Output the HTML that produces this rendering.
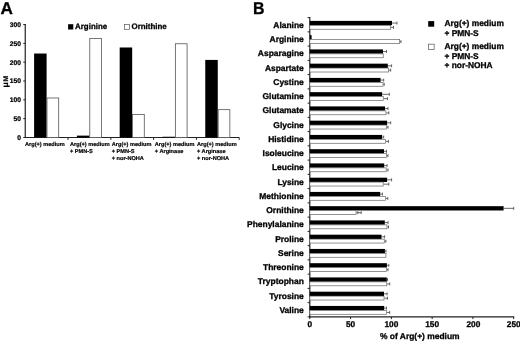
<!DOCTYPE html>
<html><head><meta charset="utf-8"><title>Figure</title>
<style>
html,body{margin:0;padding:0;background:#fff;}
body{width:520px;height:341px;overflow:hidden;}
svg{display:block;will-change:transform;}
svg text{font-family:"Liberation Sans",sans-serif;font-weight:bold;text-rendering:geometricPrecision;}
</style></head><body>
<svg width="520" height="341" viewBox="0 0 520 341">
<rect x="0" y="0" width="520" height="341" fill="#fff"/>
<text x="0.50" y="13.90" font-size="17.2" text-anchor="start" fill="#000" stroke="#000" stroke-width="0.3" >A</text>
<line x1="25.25" y1="24.00" x2="25.25" y2="138.00" stroke="#222" stroke-width="1.2"/>
<line x1="24.75" y1="137.50" x2="239.20" y2="137.50" stroke="#222" stroke-width="1.2"/>
<line x1="23.25" y1="137.50" x2="25.25" y2="137.50" stroke="#222" stroke-width="1.0"/>
<text x="20.95" y="139.90" font-size="6.7" text-anchor="end" fill="#000" stroke="#000" stroke-width="0.235" >0</text>
<line x1="23.25" y1="118.67" x2="25.25" y2="118.67" stroke="#222" stroke-width="1.0"/>
<text x="20.95" y="121.07" font-size="6.7" text-anchor="end" fill="#000" stroke="#000" stroke-width="0.235" >50</text>
<line x1="23.25" y1="99.84" x2="25.25" y2="99.84" stroke="#222" stroke-width="1.0"/>
<text x="20.95" y="102.24" font-size="6.7" text-anchor="end" fill="#000" stroke="#000" stroke-width="0.235" >100</text>
<line x1="23.25" y1="81.01" x2="25.25" y2="81.01" stroke="#222" stroke-width="1.0"/>
<text x="20.95" y="83.41" font-size="6.7" text-anchor="end" fill="#000" stroke="#000" stroke-width="0.235" >150</text>
<line x1="23.25" y1="62.18" x2="25.25" y2="62.18" stroke="#222" stroke-width="1.0"/>
<text x="20.95" y="64.58" font-size="6.7" text-anchor="end" fill="#000" stroke="#000" stroke-width="0.235" >200</text>
<line x1="23.25" y1="43.35" x2="25.25" y2="43.35" stroke="#222" stroke-width="1.0"/>
<text x="20.95" y="45.75" font-size="6.7" text-anchor="end" fill="#000" stroke="#000" stroke-width="0.235" >250</text>
<line x1="23.25" y1="24.52" x2="25.25" y2="24.52" stroke="#222" stroke-width="1.0"/>
<text x="20.95" y="26.92" font-size="6.7" text-anchor="end" fill="#000" stroke="#000" stroke-width="0.235" >300</text>
<line x1="68.04" y1="137.50" x2="68.04" y2="139.90" stroke="#222" stroke-width="1.0"/>
<line x1="110.83" y1="137.50" x2="110.83" y2="139.90" stroke="#222" stroke-width="1.0"/>
<line x1="153.62" y1="137.50" x2="153.62" y2="139.90" stroke="#222" stroke-width="1.0"/>
<line x1="196.41" y1="137.50" x2="196.41" y2="139.90" stroke="#222" stroke-width="1.0"/>
<line x1="239.20" y1="137.50" x2="239.20" y2="139.90" stroke="#222" stroke-width="1.0"/>
<rect x="34.10" y="53.52" width="12.50" height="83.98" fill="#000"/>
<rect x="47.00" y="97.98" width="11.70" height="39.52" fill="#fff" stroke="#555" stroke-width="0.8"/>
<rect x="76.89" y="135.62" width="12.50" height="1.88" fill="#000"/>
<rect x="89.79" y="38.48" width="11.70" height="99.02" fill="#fff" stroke="#555" stroke-width="0.8"/>
<rect x="119.68" y="47.49" width="12.50" height="90.01" fill="#000"/>
<rect x="132.58" y="114.55" width="11.70" height="22.95" fill="#fff" stroke="#555" stroke-width="0.8"/>
<rect x="162.47" y="136.75" width="12.50" height="0.75" fill="#000"/>
<rect x="175.37" y="43.75" width="11.70" height="93.75" fill="#fff" stroke="#555" stroke-width="0.8"/>
<rect x="205.26" y="59.92" width="12.50" height="77.58" fill="#000"/>
<rect x="218.16" y="109.66" width="11.70" height="27.85" fill="#fff" stroke="#555" stroke-width="0.8"/>
<rect x="68.10" y="24.20" width="5.20" height="5.30" fill="#000"/>
<text x="75.10" y="29.20" font-size="7.9" text-anchor="start" fill="#000" stroke="#000" stroke-width="0.277" >Arginine</text>
<rect x="124.50" y="24.60" width="5.00" height="4.70" fill="#fff" stroke="#555" stroke-width="0.7"/>
<text x="131.50" y="29.20" font-size="7.95" text-anchor="start" fill="#000" stroke="#000" stroke-width="0.278" >Ornithine</text>
<text transform="translate(7.5,87.4) rotate(-90)" font-size="8" stroke="#000" stroke-width="0.2" textLength="5.4" lengthAdjust="spacingAndGlyphs">μ</text>
<text transform="translate(7.6,81.5) rotate(-90)" font-size="6.8" stroke="#000" stroke-width="0.2">M</text>
<text x="25.05" y="145.90" font-size="5.6" text-anchor="start" fill="#000" stroke="#000" stroke-width="0.196" >Arg(+) medium</text>
<text x="70.00" y="145.90" font-size="5.6" text-anchor="start" fill="#000" stroke="#000" stroke-width="0.196" >Arg(+) medium</text>
<text x="70.00" y="153.05" font-size="5.6" text-anchor="start" fill="#000" stroke="#000" stroke-width="0.196" >+ PMN-S</text>
<text x="111.75" y="145.90" font-size="5.6" text-anchor="start" fill="#000" stroke="#000" stroke-width="0.196" >Arg(+) medium</text>
<text x="111.75" y="153.05" font-size="5.6" text-anchor="start" fill="#000" stroke="#000" stroke-width="0.196" >+ PMN-S</text>
<text x="111.75" y="160.20" font-size="5.6" text-anchor="start" fill="#000" stroke="#000" stroke-width="0.196" >+ nor-NOHA</text>
<text x="154.80" y="145.90" font-size="5.6" text-anchor="start" fill="#000" stroke="#000" stroke-width="0.196" >Arg(+) medium</text>
<text x="154.80" y="153.05" font-size="5.6" text-anchor="start" fill="#000" stroke="#000" stroke-width="0.196" >+ Arginase</text>
<text x="197.00" y="145.90" font-size="5.6" text-anchor="start" fill="#000" stroke="#000" stroke-width="0.196" >Arg(+) medium</text>
<text x="197.00" y="153.05" font-size="5.6" text-anchor="start" fill="#000" stroke="#000" stroke-width="0.196" >+ Arginase</text>
<text x="197.00" y="160.20" font-size="5.6" text-anchor="start" fill="#000" stroke="#000" stroke-width="0.196" >+ nor-NOHA</text>
<text x="253.00" y="13.90" font-size="17.2" text-anchor="start" fill="#000" stroke="#000" stroke-width="0.3" textLength="11.5" lengthAdjust="spacingAndGlyphs">B</text>
<line x1="309.80" y1="17.10" x2="309.80" y2="317.40" stroke="#222" stroke-width="1.2"/>
<line x1="309.30" y1="316.90" x2="514.20" y2="316.90" stroke="#222" stroke-width="1.3"/>
<line x1="307.60" y1="17.60" x2="309.80" y2="17.60" stroke="#222" stroke-width="1.0"/>
<line x1="307.60" y1="31.85" x2="309.80" y2="31.85" stroke="#222" stroke-width="1.0"/>
<line x1="307.60" y1="46.10" x2="309.80" y2="46.10" stroke="#222" stroke-width="1.0"/>
<line x1="307.60" y1="60.36" x2="309.80" y2="60.36" stroke="#222" stroke-width="1.0"/>
<line x1="307.60" y1="74.61" x2="309.80" y2="74.61" stroke="#222" stroke-width="1.0"/>
<line x1="307.60" y1="88.86" x2="309.80" y2="88.86" stroke="#222" stroke-width="1.0"/>
<line x1="307.60" y1="103.11" x2="309.80" y2="103.11" stroke="#222" stroke-width="1.0"/>
<line x1="307.60" y1="117.37" x2="309.80" y2="117.37" stroke="#222" stroke-width="1.0"/>
<line x1="307.60" y1="131.62" x2="309.80" y2="131.62" stroke="#222" stroke-width="1.0"/>
<line x1="307.60" y1="145.87" x2="309.80" y2="145.87" stroke="#222" stroke-width="1.0"/>
<line x1="307.60" y1="160.12" x2="309.80" y2="160.12" stroke="#222" stroke-width="1.0"/>
<line x1="307.60" y1="174.38" x2="309.80" y2="174.38" stroke="#222" stroke-width="1.0"/>
<line x1="307.60" y1="188.63" x2="309.80" y2="188.63" stroke="#222" stroke-width="1.0"/>
<line x1="307.60" y1="202.88" x2="309.80" y2="202.88" stroke="#222" stroke-width="1.0"/>
<line x1="307.60" y1="217.13" x2="309.80" y2="217.13" stroke="#222" stroke-width="1.0"/>
<line x1="307.60" y1="231.39" x2="309.80" y2="231.39" stroke="#222" stroke-width="1.0"/>
<line x1="307.60" y1="245.64" x2="309.80" y2="245.64" stroke="#222" stroke-width="1.0"/>
<line x1="307.60" y1="259.89" x2="309.80" y2="259.89" stroke="#222" stroke-width="1.0"/>
<line x1="307.60" y1="274.14" x2="309.80" y2="274.14" stroke="#222" stroke-width="1.0"/>
<line x1="307.60" y1="288.40" x2="309.80" y2="288.40" stroke="#222" stroke-width="1.0"/>
<line x1="307.60" y1="302.65" x2="309.80" y2="302.65" stroke="#222" stroke-width="1.0"/>
<line x1="307.60" y1="316.90" x2="309.80" y2="316.90" stroke="#222" stroke-width="1.0"/>
<line x1="309.80" y1="316.90" x2="309.80" y2="319.10" stroke="#222" stroke-width="1.0"/>
<text x="309.80" y="326.80" font-size="8.3" text-anchor="middle" fill="#000" stroke="#000" stroke-width="0.291" >0</text>
<line x1="350.58" y1="316.90" x2="350.58" y2="319.10" stroke="#222" stroke-width="1.0"/>
<text x="350.58" y="326.80" font-size="8.3" text-anchor="middle" fill="#000" stroke="#000" stroke-width="0.291" >50</text>
<line x1="391.36" y1="316.90" x2="391.36" y2="319.10" stroke="#222" stroke-width="1.0"/>
<text x="391.36" y="326.80" font-size="8.3" text-anchor="middle" fill="#000" stroke="#000" stroke-width="0.291" >100</text>
<line x1="432.14" y1="316.90" x2="432.14" y2="319.10" stroke="#222" stroke-width="1.0"/>
<text x="432.14" y="326.80" font-size="8.3" text-anchor="middle" fill="#000" stroke="#000" stroke-width="0.291" >150</text>
<line x1="472.92" y1="316.90" x2="472.92" y2="319.10" stroke="#222" stroke-width="1.0"/>
<text x="473.42" y="326.80" font-size="8.3" text-anchor="middle" fill="#000" stroke="#000" stroke-width="0.291" >200</text>
<line x1="513.70" y1="316.90" x2="513.70" y2="319.10" stroke="#222" stroke-width="1.0"/>
<text x="513.70" y="326.80" font-size="8.3" text-anchor="middle" fill="#000" stroke="#000" stroke-width="0.291" >250</text>
<text x="380.00" y="339.00" font-size="8.45" text-anchor="start" fill="#000" stroke="#000" stroke-width="0.296" >% of Arg(+) medium</text>
<text x="303.80" y="27.88" font-size="8.45" text-anchor="end" fill="#000" stroke="#000" stroke-width="0.296" >Alanine</text>
<line x1="392.00" y1="23.05" x2="397.00" y2="23.05" stroke="#444" stroke-width="0.8"/>
<line x1="397.00" y1="21.55" x2="397.00" y2="24.55" stroke="#444" stroke-width="0.8"/>
<line x1="391.00" y1="27.40" x2="393.50" y2="27.40" stroke="#444" stroke-width="0.8"/>
<line x1="393.50" y1="25.90" x2="393.50" y2="28.90" stroke="#444" stroke-width="0.8"/>
<rect x="309.80" y="20.90" width="82.20" height="4.30" fill="#000"/>
<rect x="309.80" y="25.35" width="80.85" height="3.90" fill="#fff" stroke="#666" stroke-width="0.7"/>
<text x="303.80" y="42.13" font-size="8.45" text-anchor="end" fill="#000" stroke="#000" stroke-width="0.296" >Arginine</text>
<line x1="400.00" y1="41.65" x2="401.00" y2="41.65" stroke="#444" stroke-width="0.8"/>
<line x1="401.00" y1="40.15" x2="401.00" y2="43.15" stroke="#444" stroke-width="0.8"/>
<rect x="309.80" y="35.15" width="1.80" height="4.30" fill="#000"/>
<rect x="309.80" y="39.60" width="89.85" height="3.90" fill="#fff" stroke="#666" stroke-width="0.7"/>
<text x="303.80" y="56.38" font-size="8.45" text-anchor="end" fill="#000" stroke="#000" stroke-width="0.296" >Asparagine</text>
<line x1="383.00" y1="51.55" x2="386.50" y2="51.55" stroke="#444" stroke-width="0.8"/>
<line x1="386.50" y1="50.05" x2="386.50" y2="53.05" stroke="#444" stroke-width="0.8"/>
<rect x="309.80" y="49.40" width="73.20" height="4.30" fill="#000"/>
<rect x="309.80" y="53.85" width="73.45" height="3.90" fill="#fff" stroke="#666" stroke-width="0.7"/>
<text x="303.80" y="70.63" font-size="8.45" text-anchor="end" fill="#000" stroke="#000" stroke-width="0.296" >Aspartate</text>
<line x1="387.80" y1="65.81" x2="391.60" y2="65.81" stroke="#444" stroke-width="0.8"/>
<line x1="391.60" y1="64.31" x2="391.60" y2="67.31" stroke="#444" stroke-width="0.8"/>
<line x1="389.00" y1="70.16" x2="390.70" y2="70.16" stroke="#444" stroke-width="0.8"/>
<line x1="390.70" y1="68.66" x2="390.70" y2="71.66" stroke="#444" stroke-width="0.8"/>
<rect x="309.80" y="63.66" width="78.00" height="4.30" fill="#000"/>
<rect x="309.80" y="68.11" width="78.85" height="3.90" fill="#fff" stroke="#666" stroke-width="0.7"/>
<text x="303.80" y="84.89" font-size="8.45" text-anchor="end" fill="#000" stroke="#000" stroke-width="0.296" >Cystine</text>
<line x1="380.60" y1="80.06" x2="383.70" y2="80.06" stroke="#444" stroke-width="0.8"/>
<line x1="383.70" y1="78.56" x2="383.70" y2="81.56" stroke="#444" stroke-width="0.8"/>
<line x1="383.40" y1="84.41" x2="384.20" y2="84.41" stroke="#444" stroke-width="0.8"/>
<line x1="384.20" y1="82.91" x2="384.20" y2="85.91" stroke="#444" stroke-width="0.8"/>
<rect x="309.80" y="77.91" width="70.80" height="4.30" fill="#000"/>
<rect x="309.80" y="82.36" width="73.25" height="3.90" fill="#fff" stroke="#666" stroke-width="0.7"/>
<text x="303.80" y="99.14" font-size="8.45" text-anchor="end" fill="#000" stroke="#000" stroke-width="0.296" >Glutamine</text>
<line x1="382.10" y1="94.31" x2="389.30" y2="94.31" stroke="#444" stroke-width="0.8"/>
<line x1="389.30" y1="92.81" x2="389.30" y2="95.81" stroke="#444" stroke-width="0.8"/>
<line x1="383.60" y1="98.66" x2="387.50" y2="98.66" stroke="#444" stroke-width="0.8"/>
<line x1="387.50" y1="97.16" x2="387.50" y2="100.16" stroke="#444" stroke-width="0.8"/>
<rect x="309.80" y="92.16" width="72.30" height="4.30" fill="#000"/>
<rect x="309.80" y="96.61" width="73.45" height="3.90" fill="#fff" stroke="#666" stroke-width="0.7"/>
<text x="303.80" y="113.39" font-size="8.45" text-anchor="end" fill="#000" stroke="#000" stroke-width="0.296" >Glutamate</text>
<line x1="385.00" y1="108.56" x2="388.00" y2="108.56" stroke="#444" stroke-width="0.8"/>
<line x1="388.00" y1="107.06" x2="388.00" y2="110.06" stroke="#444" stroke-width="0.8"/>
<line x1="386.30" y1="112.91" x2="388.80" y2="112.91" stroke="#444" stroke-width="0.8"/>
<line x1="388.80" y1="111.41" x2="388.80" y2="114.41" stroke="#444" stroke-width="0.8"/>
<rect x="309.80" y="106.41" width="75.20" height="4.30" fill="#000"/>
<rect x="309.80" y="110.86" width="76.15" height="3.90" fill="#fff" stroke="#666" stroke-width="0.7"/>
<text x="303.80" y="127.64" font-size="8.45" text-anchor="end" fill="#000" stroke="#000" stroke-width="0.296" >Glycine</text>
<line x1="387.10" y1="122.82" x2="390.70" y2="122.82" stroke="#444" stroke-width="0.8"/>
<line x1="390.70" y1="121.32" x2="390.70" y2="124.32" stroke="#444" stroke-width="0.8"/>
<line x1="386.90" y1="127.17" x2="388.00" y2="127.17" stroke="#444" stroke-width="0.8"/>
<line x1="388.00" y1="125.67" x2="388.00" y2="128.67" stroke="#444" stroke-width="0.8"/>
<rect x="309.80" y="120.67" width="77.30" height="4.30" fill="#000"/>
<rect x="309.80" y="125.12" width="76.75" height="3.90" fill="#fff" stroke="#666" stroke-width="0.7"/>
<text x="303.80" y="141.90" font-size="8.45" text-anchor="end" fill="#000" stroke="#000" stroke-width="0.296" >Histidine</text>
<line x1="382.10" y1="137.07" x2="383.70" y2="137.07" stroke="#444" stroke-width="0.8"/>
<line x1="383.70" y1="135.57" x2="383.70" y2="138.57" stroke="#444" stroke-width="0.8"/>
<line x1="385.90" y1="141.42" x2="388.40" y2="141.42" stroke="#444" stroke-width="0.8"/>
<line x1="388.40" y1="139.92" x2="388.40" y2="142.92" stroke="#444" stroke-width="0.8"/>
<rect x="309.80" y="134.92" width="72.30" height="4.30" fill="#000"/>
<rect x="309.80" y="139.37" width="75.75" height="3.90" fill="#fff" stroke="#666" stroke-width="0.7"/>
<text x="303.80" y="156.15" font-size="8.45" text-anchor="end" fill="#000" stroke="#000" stroke-width="0.296" >Isoleucine</text>
<line x1="384.00" y1="151.32" x2="386.50" y2="151.32" stroke="#444" stroke-width="0.8"/>
<line x1="386.50" y1="149.82" x2="386.50" y2="152.82" stroke="#444" stroke-width="0.8"/>
<line x1="386.90" y1="155.67" x2="388.00" y2="155.67" stroke="#444" stroke-width="0.8"/>
<line x1="388.00" y1="154.17" x2="388.00" y2="157.17" stroke="#444" stroke-width="0.8"/>
<rect x="309.80" y="149.17" width="74.20" height="4.30" fill="#000"/>
<rect x="309.80" y="153.62" width="76.75" height="3.90" fill="#fff" stroke="#666" stroke-width="0.7"/>
<text x="303.80" y="170.40" font-size="8.45" text-anchor="end" fill="#000" stroke="#000" stroke-width="0.296" >Leucine</text>
<line x1="384.20" y1="165.57" x2="387.10" y2="165.57" stroke="#444" stroke-width="0.8"/>
<line x1="387.10" y1="164.07" x2="387.10" y2="167.07" stroke="#444" stroke-width="0.8"/>
<line x1="386.50" y1="169.92" x2="388.00" y2="169.92" stroke="#444" stroke-width="0.8"/>
<line x1="388.00" y1="168.42" x2="388.00" y2="171.42" stroke="#444" stroke-width="0.8"/>
<rect x="309.80" y="163.42" width="74.40" height="4.30" fill="#000"/>
<rect x="309.80" y="167.87" width="76.35" height="3.90" fill="#fff" stroke="#666" stroke-width="0.7"/>
<text x="303.80" y="184.65" font-size="8.45" text-anchor="end" fill="#000" stroke="#000" stroke-width="0.296" >Lysine</text>
<line x1="387.10" y1="179.83" x2="391.60" y2="179.83" stroke="#444" stroke-width="0.8"/>
<line x1="391.60" y1="178.33" x2="391.60" y2="181.33" stroke="#444" stroke-width="0.8"/>
<line x1="383.60" y1="184.18" x2="388.80" y2="184.18" stroke="#444" stroke-width="0.8"/>
<line x1="388.80" y1="182.68" x2="388.80" y2="185.68" stroke="#444" stroke-width="0.8"/>
<rect x="309.80" y="177.68" width="77.30" height="4.30" fill="#000"/>
<rect x="309.80" y="182.13" width="73.45" height="3.90" fill="#fff" stroke="#666" stroke-width="0.7"/>
<text x="303.80" y="198.90" font-size="8.45" text-anchor="end" fill="#000" stroke="#000" stroke-width="0.296" >Methionine</text>
<line x1="380.20" y1="194.08" x2="382.50" y2="194.08" stroke="#444" stroke-width="0.8"/>
<line x1="382.50" y1="192.58" x2="382.50" y2="195.58" stroke="#444" stroke-width="0.8"/>
<line x1="385.90" y1="198.43" x2="387.80" y2="198.43" stroke="#444" stroke-width="0.8"/>
<line x1="387.80" y1="196.93" x2="387.80" y2="199.93" stroke="#444" stroke-width="0.8"/>
<rect x="309.80" y="191.93" width="70.40" height="4.30" fill="#000"/>
<rect x="309.80" y="196.38" width="75.75" height="3.90" fill="#fff" stroke="#666" stroke-width="0.7"/>
<text x="303.80" y="213.16" font-size="8.45" text-anchor="end" fill="#000" stroke="#000" stroke-width="0.296" >Ornithine</text>
<line x1="503.60" y1="208.33" x2="513.70" y2="208.33" stroke="#444" stroke-width="0.8"/>
<line x1="513.70" y1="206.83" x2="513.70" y2="209.83" stroke="#444" stroke-width="0.8"/>
<line x1="356.40" y1="212.68" x2="361.20" y2="212.68" stroke="#444" stroke-width="0.8"/>
<line x1="361.20" y1="211.18" x2="361.20" y2="214.18" stroke="#444" stroke-width="0.8"/>
<line x1="357.90" y1="211.18" x2="357.90" y2="214.18" stroke="#444" stroke-width="0.8"/>
<rect x="309.80" y="206.18" width="193.80" height="4.30" fill="#000"/>
<rect x="309.80" y="210.63" width="46.25" height="3.90" fill="#fff" stroke="#666" stroke-width="0.7"/>
<text x="303.80" y="227.41" font-size="8.45" text-anchor="end" fill="#000" stroke="#000" stroke-width="0.296" >Phenylalanine</text>
<line x1="384.80" y1="222.58" x2="388.00" y2="222.58" stroke="#444" stroke-width="0.8"/>
<line x1="388.00" y1="221.08" x2="388.00" y2="224.08" stroke="#444" stroke-width="0.8"/>
<line x1="387.30" y1="226.93" x2="388.50" y2="226.93" stroke="#444" stroke-width="0.8"/>
<line x1="388.50" y1="225.43" x2="388.50" y2="228.43" stroke="#444" stroke-width="0.8"/>
<rect x="309.80" y="220.43" width="75.00" height="4.30" fill="#000"/>
<rect x="309.80" y="224.88" width="77.15" height="3.90" fill="#fff" stroke="#666" stroke-width="0.7"/>
<text x="303.80" y="241.66" font-size="8.45" text-anchor="end" fill="#000" stroke="#000" stroke-width="0.296" >Proline</text>
<line x1="381.50" y1="236.84" x2="384.60" y2="236.84" stroke="#444" stroke-width="0.8"/>
<line x1="384.60" y1="235.34" x2="384.60" y2="238.34" stroke="#444" stroke-width="0.8"/>
<line x1="384.60" y1="241.19" x2="385.90" y2="241.19" stroke="#444" stroke-width="0.8"/>
<line x1="385.90" y1="239.69" x2="385.90" y2="242.69" stroke="#444" stroke-width="0.8"/>
<rect x="309.80" y="234.69" width="71.70" height="4.30" fill="#000"/>
<rect x="309.80" y="239.14" width="74.45" height="3.90" fill="#fff" stroke="#666" stroke-width="0.7"/>
<text x="303.80" y="255.91" font-size="8.45" text-anchor="end" fill="#000" stroke="#000" stroke-width="0.296" >Serine</text>
<line x1="384.90" y1="251.09" x2="386.00" y2="251.09" stroke="#444" stroke-width="0.8"/>
<line x1="386.00" y1="249.59" x2="386.00" y2="252.59" stroke="#444" stroke-width="0.8"/>
<rect x="309.80" y="248.94" width="75.10" height="4.30" fill="#000"/>
<rect x="309.80" y="253.39" width="76.15" height="3.90" fill="#fff" stroke="#666" stroke-width="0.7"/>
<text x="303.80" y="270.17" font-size="8.45" text-anchor="end" fill="#000" stroke="#000" stroke-width="0.296" >Threonine</text>
<line x1="386.90" y1="265.34" x2="388.80" y2="265.34" stroke="#444" stroke-width="0.8"/>
<line x1="388.80" y1="263.84" x2="388.80" y2="266.84" stroke="#444" stroke-width="0.8"/>
<line x1="386.90" y1="269.69" x2="388.00" y2="269.69" stroke="#444" stroke-width="0.8"/>
<line x1="388.00" y1="268.19" x2="388.00" y2="271.19" stroke="#444" stroke-width="0.8"/>
<rect x="309.80" y="263.19" width="77.10" height="4.30" fill="#000"/>
<rect x="309.80" y="267.64" width="76.75" height="3.90" fill="#fff" stroke="#666" stroke-width="0.7"/>
<text x="303.80" y="284.42" font-size="8.45" text-anchor="end" fill="#000" stroke="#000" stroke-width="0.296" >Tryptophan</text>
<line x1="386.80" y1="279.59" x2="387.50" y2="279.59" stroke="#444" stroke-width="0.8"/>
<line x1="387.50" y1="278.09" x2="387.50" y2="281.09" stroke="#444" stroke-width="0.8"/>
<line x1="387.10" y1="283.94" x2="389.70" y2="283.94" stroke="#444" stroke-width="0.8"/>
<line x1="389.70" y1="282.44" x2="389.70" y2="285.44" stroke="#444" stroke-width="0.8"/>
<rect x="309.80" y="277.44" width="77.00" height="4.30" fill="#000"/>
<rect x="309.80" y="281.89" width="76.95" height="3.90" fill="#fff" stroke="#666" stroke-width="0.7"/>
<text x="303.80" y="298.67" font-size="8.45" text-anchor="end" fill="#000" stroke="#000" stroke-width="0.296" >Tyrosine</text>
<line x1="384.00" y1="293.85" x2="387.10" y2="293.85" stroke="#444" stroke-width="0.8"/>
<line x1="387.10" y1="292.35" x2="387.10" y2="295.35" stroke="#444" stroke-width="0.8"/>
<line x1="384.40" y1="298.20" x2="387.50" y2="298.20" stroke="#444" stroke-width="0.8"/>
<line x1="387.50" y1="296.70" x2="387.50" y2="299.70" stroke="#444" stroke-width="0.8"/>
<rect x="309.80" y="291.70" width="74.20" height="4.30" fill="#000"/>
<rect x="309.80" y="296.15" width="74.25" height="3.90" fill="#fff" stroke="#666" stroke-width="0.7"/>
<text x="303.80" y="312.92" font-size="8.45" text-anchor="end" fill="#000" stroke="#000" stroke-width="0.296" >Valine</text>
<line x1="384.20" y1="308.10" x2="386.50" y2="308.10" stroke="#444" stroke-width="0.8"/>
<line x1="386.50" y1="306.60" x2="386.50" y2="309.60" stroke="#444" stroke-width="0.8"/>
<line x1="386.80" y1="312.45" x2="389.70" y2="312.45" stroke="#444" stroke-width="0.8"/>
<line x1="389.70" y1="310.95" x2="389.70" y2="313.95" stroke="#444" stroke-width="0.8"/>
<rect x="309.80" y="305.95" width="74.40" height="4.30" fill="#000"/>
<rect x="309.80" y="310.40" width="76.65" height="3.90" fill="#fff" stroke="#666" stroke-width="0.7"/>
<rect x="428.20" y="21.10" width="6.00" height="5.60" fill="#000"/>
<rect x="428.55" y="44.15" width="5.60" height="5.40" fill="#fff" stroke="#555" stroke-width="0.7"/>
<text x="444.50" y="26.40" font-size="8.38" text-anchor="start" fill="#000" stroke="#000" stroke-width="0.293" >Arg(+) medium</text>
<text x="444.50" y="35.90" font-size="8.38" text-anchor="start" fill="#000" stroke="#000" stroke-width="0.293" >+ PMN-S</text>
<text x="444.50" y="49.30" font-size="8.38" text-anchor="start" fill="#000" stroke="#000" stroke-width="0.293" >Arg(+) medium</text>
<text x="444.50" y="59.30" font-size="8.38" text-anchor="start" fill="#000" stroke="#000" stroke-width="0.293" >+ PMN-S</text>
<text x="444.50" y="67.80" font-size="8.38" text-anchor="start" fill="#000" stroke="#000" stroke-width="0.293" >+ nor-NOHA</text>
</svg>
</body></html>
